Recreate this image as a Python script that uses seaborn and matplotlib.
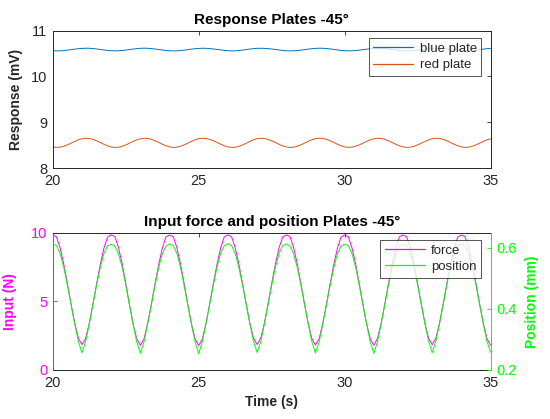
import numpy as np
import pandas as pd
import matplotlib
matplotlib.use("Agg")
import matplotlib.pyplot as plt
from matplotlib.lines import Line2D
import seaborn as sns

# ---- data ----
time_s = np.round(np.arange(20.0, 35.0001, 0.125), 3)

blue_plate = [
    10.560, 10.557, 10.558, 10.564, 10.573, 10.584, 10.595, 10.605, 10.612, 10.615, 10.614, 10.608, 10.599, 10.588, 10.577, 10.567,
    10.561, 10.557, 10.559, 10.565, 10.574, 10.585, 10.596, 10.606, 10.613, 10.616, 10.614, 10.607, 10.598, 10.587, 10.576, 10.566,
    10.560, 10.556, 10.558, 10.563, 10.573, 10.584, 10.595, 10.604, 10.611, 10.615, 10.613, 10.607, 10.599, 10.589, 10.578, 10.568,
    10.561, 10.557, 10.558, 10.564, 10.574, 10.585, 10.596, 10.605, 10.612, 10.614, 10.612, 10.606, 10.598, 10.588, 10.577, 10.567,
    10.560, 10.557, 10.559, 10.565, 10.574, 10.584, 10.595, 10.604, 10.611, 10.615, 10.614, 10.608, 10.600, 10.589, 10.578, 10.567,
    10.561, 10.558, 10.559, 10.564, 10.573, 10.583, 10.594, 10.604, 10.612, 10.615, 10.613, 10.607, 10.598, 10.587, 10.576, 10.566,
    10.560, 10.557, 10.558, 10.565, 10.574, 10.585, 10.596, 10.605, 10.612, 10.616, 10.614, 10.608, 10.599, 10.588, 10.577, 10.567,
    10.560, 10.557, 10.558, 10.564, 10.573, 10.584, 10.595, 10.605, 10.612,
]

red_plate = [
    8.461, 8.450, 8.455, 8.474, 8.505, 8.542, 8.581, 8.615, 8.639, 8.650, 8.645, 8.626, 8.595, 8.558, 8.519, 8.485,
    8.460, 8.449, 8.454, 8.473, 8.504, 8.541, 8.580, 8.614, 8.638, 8.649, 8.646, 8.628, 8.597, 8.560, 8.521, 8.486,
    8.462, 8.451, 8.455, 8.475, 8.506, 8.543, 8.582, 8.616, 8.640, 8.651, 8.647, 8.627, 8.596, 8.559, 8.520, 8.485,
    8.461, 8.450, 8.453, 8.472, 8.503, 8.540, 8.580, 8.615, 8.640, 8.650, 8.644, 8.625, 8.594, 8.557, 8.518, 8.484,
    8.460, 8.449, 8.455, 8.474, 8.506, 8.543, 8.582, 8.616, 8.639, 8.649, 8.645, 8.627, 8.596, 8.559, 8.520, 8.486,
    8.462, 8.451, 8.456, 8.475, 8.505, 8.542, 8.581, 8.614, 8.638, 8.650, 8.646, 8.626, 8.595, 8.558, 8.519, 8.485,
    8.461, 8.450, 8.454, 8.473, 8.504, 8.541, 8.580, 8.615, 8.639, 8.651, 8.645, 8.626, 8.595, 8.558, 8.519, 8.485,
    8.461, 8.450, 8.455, 8.474, 8.505, 8.542, 8.581, 8.615, 8.637,
]

force_N = [
    9.85, 9.72, 8.92, 7.72, 6.30, 4.82, 3.42, 2.32, 1.85, 2.30, 3.40, 4.80, 6.28, 7.68, 8.88, 9.70,
    9.86, 9.74, 8.95, 7.75, 6.32, 4.80, 3.40, 2.28, 1.80, 2.26, 3.38, 4.78, 6.26, 7.66, 8.86, 9.71,
    9.85, 9.73, 8.93, 7.73, 6.30, 4.78, 3.38, 2.26, 1.78, 2.28, 3.40, 4.82, 6.30, 7.70, 8.90, 9.72,
    9.86, 9.72, 8.92, 7.72, 6.31, 4.83, 3.43, 2.33, 1.86, 2.32, 3.42, 4.82, 6.30, 7.70, 8.90, 9.71,
    9.85, 9.74, 8.94, 7.74, 6.32, 4.82, 3.41, 2.30, 1.82, 2.28, 3.38, 4.78, 6.27, 7.67, 8.87, 9.70,
    9.86, 9.73, 8.93, 7.73, 6.30, 4.80, 3.40, 2.28, 1.80, 2.30, 3.40, 4.80, 6.29, 7.69, 8.89, 9.72,
    9.85, 9.72, 8.92, 7.72, 6.30, 4.81, 3.42, 2.31, 1.84, 2.31, 3.41, 4.81, 6.29, 7.69, 8.89, 9.71,
    9.85, 9.73, 8.93, 7.73, 6.31, 4.81, 3.41, 2.29, 1.80,
]

position_mm = [
    0.612, 0.607, 0.581, 0.536, 0.478, 0.415, 0.352, 0.294, 0.256, 0.293, 0.351, 0.414, 0.477, 0.535, 0.580, 0.606,
    0.611, 0.606, 0.580, 0.537, 0.479, 0.414, 0.351, 0.293, 0.255, 0.292, 0.350, 0.413, 0.476, 0.534, 0.579, 0.605,
    0.612, 0.607, 0.582, 0.536, 0.477, 0.413, 0.350, 0.292, 0.253, 0.294, 0.352, 0.415, 0.478, 0.536, 0.581, 0.606,
    0.613, 0.607, 0.581, 0.535, 0.478, 0.416, 0.353, 0.295, 0.257, 0.293, 0.351, 0.414, 0.477, 0.535, 0.580, 0.606,
    0.612, 0.606, 0.580, 0.536, 0.479, 0.415, 0.352, 0.293, 0.255, 0.292, 0.350, 0.413, 0.476, 0.534, 0.579, 0.605,
    0.611, 0.607, 0.581, 0.537, 0.478, 0.414, 0.351, 0.293, 0.254, 0.293, 0.351, 0.414, 0.477, 0.535, 0.580, 0.606,
    0.612, 0.607, 0.581, 0.536, 0.478, 0.415, 0.352, 0.294, 0.256, 0.294, 0.352, 0.415, 0.478, 0.536, 0.581, 0.607,
    0.612, 0.606, 0.580, 0.536, 0.478, 0.414, 0.351, 0.294, 0.258,
]

x_ticks = [20, 25, 30, 35]
top_y_ticks = [8, 9, 10, 11]
force_ticks = [0, 5, 10]
pos_ticks = [0.2, 0.4, 0.6]

top_df = pd.DataFrame({"t": time_s, "blue": blue_plate, "red": red_plate})
bot_df = pd.DataFrame({"t": time_s, "force": force_N, "position": position_mm})

# ---- style ----
sns.set_style("white")
plt.rcParams["font.family"] = ["Liberation Sans", "DejaVu Sans"]
DARK = "#262626"
BLUE = "#0072BD"
RED = "#D95319"
MAG = "#FF00FF"
GRN = "#00FF00"

fig = plt.figure(figsize=(5.5, 4.19), dpi=100)
ax1 = fig.add_axes([0.096, 0.599, 0.796, 0.328])
ax2 = fig.add_axes([0.096, 0.117, 0.796, 0.327])

# ---- top plot ----
sns.lineplot(data=top_df, x="t", y="blue", ax=ax1, color=BLUE, lw=0.7, legend=False)
sns.lineplot(data=top_df, x="t", y="red", ax=ax1, color=RED, lw=0.7, legend=False)
ax1.set_xlim(20, 35)
ax1.set_ylim(8, 11)
ax1.set_xticks(x_ticks)
ax1.set_yticks(top_y_ticks)
ax1.set_xlabel("")
ax1.set_ylabel("Response (mV)", fontsize=10, fontweight="bold", color=DARK, labelpad=6)
ax1.set_title("Response Plates -45°", fontsize=11, fontweight="bold", color="black", pad=5)
ax1.tick_params(direction="in", length=3, width=0.6, colors=DARK, labelsize=10.5,
                top=True, right=True, pad=4)
for sp in ax1.spines.values():
    sp.set_color(DARK)
    sp.set_linewidth(0.7)
top_handles = [Line2D([], [], color=BLUE, lw=0.9), Line2D([], [], color=RED, lw=0.9)]
leg1 = ax1.legend(top_handles, ["blue plate", "red plate"], loc="upper right",
                  bbox_to_anchor=(0.979, 0.945), borderaxespad=0,
                  fontsize=9.5, frameon=True, fancybox=False, handlelength=3.0,
                  borderpad=0.35, labelspacing=0.3, handletextpad=0.5)
leg1.get_frame().set_edgecolor(DARK)
leg1.get_frame().set_linewidth(0.7)

# ---- bottom plot ----
ax2r = ax2.twinx()
sns.lineplot(data=bot_df, x="t", y="force", ax=ax2, color=MAG, lw=0.7, legend=False)
sns.lineplot(data=bot_df, x="t", y="position", ax=ax2r, color=GRN, lw=0.7, legend=False)
ax2.set_xlim(20, 35)
ax2.set_ylim(0, 10)
ax2r.set_ylim(0.2, 0.648)
ax2.set_xticks(x_ticks)
ax2.set_yticks(force_ticks)
ax2r.set_yticks(pos_ticks)
ax2.set_xlabel("Time (s)", fontsize=10, fontweight="bold", color=DARK, labelpad=4)
ax2.set_ylabel("Input (N)", fontsize=10, fontweight="bold", color=MAG, labelpad=10)
ax2r.set_ylabel("Position (mm)", fontsize=10, fontweight="bold", color=GRN, labelpad=6)
ax2.set_title("Input force and position Plates -45°", fontsize=11, fontweight="bold",
              color="black", pad=5)
ax2.tick_params(axis="x", direction="in", length=3, width=0.6, colors=DARK, labelsize=10.5,
                top=True, pad=4)
ax2.tick_params(axis="y", direction="in", length=3, width=0.6, colors=MAG, labelsize=10.5,
                right=False, pad=4)
ax2r.tick_params(axis="y", direction="in", length=3, width=0.6, colors=GRN, labelsize=10.5, pad=4)
for sp in ["top", "bottom"]:
    ax2.spines[sp].set_color(DARK)
    ax2.spines[sp].set_linewidth(0.7)
ax2.spines["left"].set_color(MAG)
ax2.spines["left"].set_linewidth(0.7)
ax2.spines["right"].set_visible(False)
ax2r.spines["right"].set_color(GRN)
ax2r.spines["right"].set_linewidth(0.7)
ax2r.spines["left"].set_visible(False)
ax2r.spines["top"].set_visible(False)
ax2r.spines["bottom"].set_visible(False)

bot_handles = [Line2D([], [], color=MAG, lw=0.9), Line2D([], [], color=GRN, lw=0.9)]
leg2 = ax2r.legend(bot_handles, ["force", "position"], loc="upper right",
                   bbox_to_anchor=(0.979, 0.949), borderaxespad=0, fontsize=9.5,
                   frameon=True, fancybox=False, handlelength=3.0, borderpad=0.35,
                   labelspacing=0.3, handletextpad=0.5)
leg2.get_frame().set_edgecolor(DARK)
leg2.get_frame().set_linewidth(0.7)

fig.savefig("out.png", dpi=100, facecolor="white")
